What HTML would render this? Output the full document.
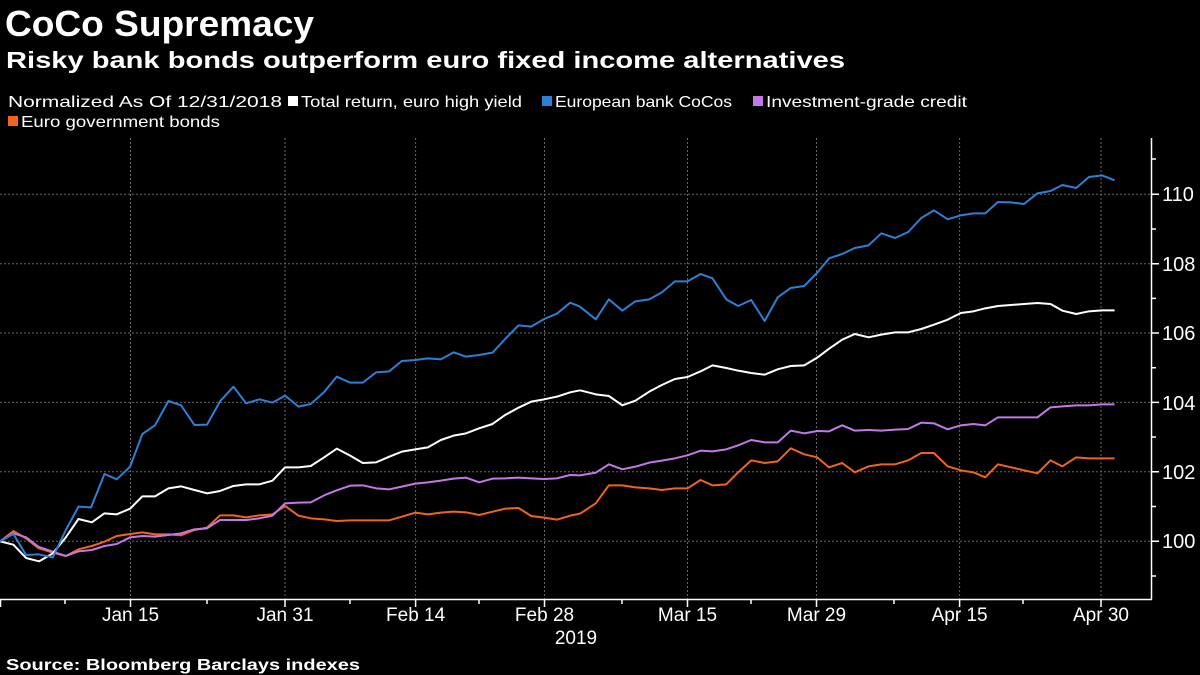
<!DOCTYPE html>
<html><head><meta charset="utf-8"><style>html,body{margin:0;padding:0;background:#000;}svg{display:block}</style></head>
<body>
<svg width="1200" height="675" viewBox="0 0 1200 675" xmlns="http://www.w3.org/2000/svg" font-family="Liberation Sans, sans-serif">
<rect width="1200" height="675" fill="#000"/>
<text x="5" y="36" fill="#fff" font-size="36" font-weight="bold" textLength="309" lengthAdjust="spacingAndGlyphs">CoCo Supremacy</text>
<text x="6" y="68" fill="#fff" font-size="23" font-weight="bold" textLength="839" lengthAdjust="spacingAndGlyphs">Risky bank bonds outperform euro fixed income alternatives</text>
<g font-size="16" fill="#fff">
<text x="8" y="107" textLength="274" lengthAdjust="spacingAndGlyphs">Normalized As Of 12/31/2018</text>
<rect x="288" y="96" width="10" height="10" fill="#fff"/>
<text x="301" y="107" textLength="221" lengthAdjust="spacingAndGlyphs">Total return, euro high yield</text>
<rect x="542" y="96" width="10" height="10" fill="#2e7fd6"/>
<text x="555" y="107" textLength="177" lengthAdjust="spacingAndGlyphs">European bank CoCos</text>
<rect x="753" y="96" width="10" height="10" fill="#c478e8"/>
<text x="766" y="107" textLength="201" lengthAdjust="spacingAndGlyphs">Investment-grade credit</text>
<rect x="8" y="116" width="10" height="10" fill="#f0641e"/>
<text x="21" y="127" textLength="199" lengthAdjust="spacingAndGlyphs">Euro government bonds</text>
</g>
<g stroke="#666" stroke-width="1" stroke-dasharray="2,2">
<line x1="0" x2="1151" y1="194.3" y2="194.3"/><line x1="0" x2="1151" y1="263.7" y2="263.7"/>
<line x1="0" x2="1151" y1="333" y2="333"/><line x1="0" x2="1151" y1="402.4" y2="402.4"/>
<line x1="0" x2="1151" y1="471.8" y2="471.8"/><line x1="0" x2="1151" y1="541.3" y2="541.3"/>
<line x1="130.5" x2="130.5" y1="138" y2="599"/><line x1="285" x2="285" y1="138" y2="599"/>
<line x1="415.6" x2="415.6" y1="138" y2="599"/><line x1="544.5" x2="544.5" y1="138" y2="599"/>
<line x1="687.5" x2="687.5" y1="138" y2="599"/><line x1="816.5" x2="816.5" y1="138" y2="599"/>
<line x1="959.6" x2="959.6" y1="138" y2="599"/><line x1="1101" x2="1101" y1="138" y2="599"/>
</g>
<g stroke="#fff" stroke-width="1.5" fill="none">
<line x1="1151.5" y1="138" x2="1151.5" y2="599.5"/>
<line x1="0" y1="599.5" x2="1152" y2="599.5"/>
<path d="M1151 159h5M1151 194.3h8M1151 229h5M1151 263.7h8M1151 298.4h5M1151 333h8M1151 367.7h5M1151 402.4h8M1151 437h5M1151 471.8h8M1151 506.5h5M1151 541.3h8M1151 576h5"/>
<path d="M0.5 599v8M65 599v5M130.5 599v8M207 599v5M285 599v8M350 599v5M415.6 599v8M479 599v5M544.5 599v8M622 599v5M687.5 599v8M751 599v5M816.5 599v8M894 599v5M959.6 599v8M1023 599v5M1101 599v8"/>
</g>
<g fill="#fff" font-size="20">
<text x="1162" y="201">110</text><text x="1162" y="271">108</text><text x="1162" y="340">106</text>
<text x="1162" y="410">104</text><text x="1162" y="479">102</text><text x="1162" y="548">100</text>
</g>
<g fill="#fff" font-size="19" text-anchor="middle">
<text x="130.5" y="621">Jan 15</text><text x="285" y="621">Jan 31</text><text x="415.6" y="621">Feb 14</text>
<text x="544.5" y="621">Feb 28</text><text x="687.5" y="621">Mar 15</text><text x="816.5" y="621">Mar 29</text>
<text x="959.6" y="621">Apr 15</text><text x="1101" y="621">Apr 30</text>
<text x="576" y="644">2019</text>
</g>
<g fill="none" stroke-width="2" stroke-linejoin="round">
<g transform="translate(0,130) scale(0.3827,0.33333)">
<polyline vector-effect="non-scaling-stroke" stroke="#f0641e" points="0,1234 35,1203 68,1225 100,1254 138,1268 172,1278 205,1258 240,1248 273,1235 305,1218 340,1212 372,1207 405,1213 440,1213 473,1216 508,1200 541,1193 575,1156 610,1156 643,1162 678,1156 712,1153 745,1128 780,1157 812,1165 847,1168 880,1173 915,1171 948,1171 983,1171 1017,1171 1050,1160 1085,1148 1118,1153 1152,1148 1185,1145 1218,1147 1252,1155 1287,1145 1320,1136 1355,1134 1388,1158 1422,1163 1455,1169 1490,1157 1516,1151"/>
<polyline vector-effect="non-scaling-stroke" stroke="#c478e8" points="0,1234 35,1210 68,1222 100,1250 138,1265 172,1278 205,1264 240,1260 273,1248 305,1242 340,1222 372,1218 405,1220 440,1215 473,1210 508,1198 541,1195 575,1170 610,1170 643,1170 678,1165 712,1157 745,1120 780,1118 812,1117 847,1096 880,1081 915,1067 948,1066 983,1075 1017,1078 1050,1070 1085,1061 1118,1057 1152,1052 1185,1046 1218,1043 1252,1057 1287,1046 1320,1045 1355,1043 1388,1045 1422,1047 1455,1045 1490,1035 1516,1036"/>
<polyline vector-effect="non-scaling-stroke" stroke="#ffffff" points="0,1234 35,1244 68,1284 102,1294 138,1270 172,1222 205,1167 240,1177 273,1150 305,1153 340,1136 372,1099 405,1099 440,1075 473,1069 508,1080 541,1090 575,1083 610,1068 643,1063 678,1063 712,1052 745,1012 780,1012 812,1008 847,982 880,956 915,977 948,999 983,997 1017,980 1050,965 1085,958 1118,952 1152,930 1185,917 1218,910 1252,895 1287,882 1320,855 1355,833 1388,815 1422,808 1455,800 1490,787 1516,781"/>
<polyline vector-effect="non-scaling-stroke" stroke="#2e7fd6" points="0,1234 35,1212 68,1275 100,1273 138,1282 172,1200 205,1130 238,1132 273,1032 305,1048 340,1010 372,912 405,886 440,813 473,826 508,885 541,884 575,814 610,770 643,820 678,808 712,818 745,797 780,830 812,822 847,786 880,740 915,758 948,758 983,727 1017,724 1050,693 1085,690 1118,685 1152,688 1185,667 1218,680 1252,675 1287,668 1320,627 1355,586 1388,590 1422,567 1455,551 1490,518 1516,530"/>
</g>
<g transform="translate(580,130) scale(0.3954,0.33333)">
<polyline vector-effect="non-scaling-stroke" stroke="#f0641e" points="0,1151 40,1120 73,1066 107,1066 140,1072 175,1075 207,1080 240,1075 272,1075 305,1050 335,1066 370,1063 400,1027 433,991 467,999 500,994 533,955 567,973 600,982 630,1012 663,999 695,1027 730,1009 762,1003 797,1003 830,991 863,969 895,969 930,1009 963,1021 995,1027 1025,1042 1057,1003 1090,1012 1123,1021 1157,1030 1190,991 1220,1009 1255,982 1287,985 1320,985 1352,985"/>
<polyline vector-effect="non-scaling-stroke" stroke="#c478e8" points="0,1036 40,1028 73,1003 107,1018 140,1010 175,998 207,992 240,985 272,976 305,962 335,964 370,958 400,946 433,930 467,937 500,937 533,902 567,910 600,903 630,904 663,886 695,902 730,900 762,902 797,899 830,897 863,878 895,880 930,898 963,886 995,882 1025,886 1057,862 1090,862 1123,862 1157,862 1190,832 1220,829 1255,826 1287,826 1320,823 1352,823"/>
<polyline vector-effect="non-scaling-stroke" stroke="#ffffff" points="0,781 40,793 73,798 107,826 140,812 175,785 207,765 240,747 272,741 305,724 335,706 370,714 400,722 433,729 467,734 500,718 533,708 567,706 600,683 630,656 663,629 695,612 730,622 762,614 797,607 830,607 863,597 895,584 930,569 963,549 995,544 1025,535 1057,528 1090,525 1123,522 1157,519 1190,522 1220,542 1255,552 1287,544 1320,541 1352,541"/>
<polyline vector-effect="non-scaling-stroke" stroke="#2e7fd6" points="0,530 40,568 73,508 107,542 140,514 175,508 207,487 240,454 272,454 305,432 335,445 370,508 400,528 433,510 467,573 500,502 533,474 567,468 600,428 630,385 663,372 695,354 730,346 762,310 797,324 830,306 863,264 895,241 930,268 963,256 995,250 1025,250 1057,216 1090,217 1123,222 1157,190 1190,183 1220,165 1255,174 1287,141 1320,136 1352,151"/>
</g>
</g>
<text x="6" y="670" fill="#fff" font-size="16" font-weight="bold" textLength="354" lengthAdjust="spacingAndGlyphs">Source: Bloomberg Barclays indexes</text>
</svg>
</body></html>
